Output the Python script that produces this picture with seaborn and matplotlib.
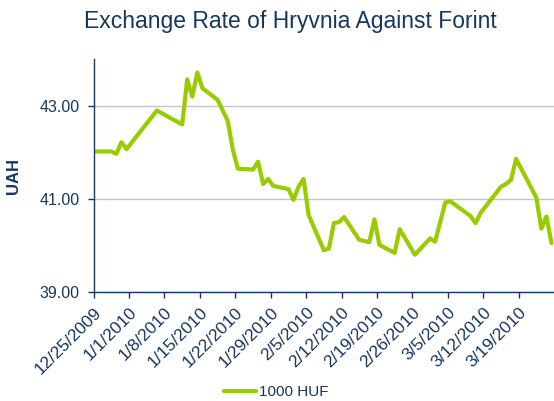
import pandas as pd
import numpy as np
import matplotlib
matplotlib.use("Agg")
import matplotlib.pyplot as plt
import seaborn as sns

# ==========================================
# DATA
# ==========================================

dates = [
    "2009-12-25", "2009-12-28", "2009-12-29", "2009-12-30", "2009-12-31",
    "2010-01-06", "2010-01-11", "2010-01-12", "2010-01-13", "2010-01-14",
    "2010-01-15", "2010-01-18", "2010-01-20", "2010-01-21", "2010-01-22",
    "2010-01-25", "2010-01-26", "2010-01-27", "2010-01-28", "2010-01-29",
    "2010-02-01", "2010-02-02", "2010-02-03", "2010-02-04", "2010-02-05",
    "2010-02-08", "2010-02-09", "2010-02-10", "2010-02-11", "2010-02-12",
    "2010-02-15", "2010-02-17", "2010-02-18", "2010-02-19", "2010-02-22",
    "2010-02-23", "2010-02-26", "2010-03-01", "2010-03-02", "2010-03-04",
    "2010-03-05", "2010-03-09", "2010-03-10", "2010-03-11", "2010-03-15",
    "2010-03-16", "2010-03-17", "2010-03-18", "2010-03-22", "2010-03-23",
    "2010-03-24", "2010-03-25",
]

uah_per_1000_huf = [
    42.02, 42.02, 41.97, 42.22, 42.07,
    42.90, 42.60, 43.57, 43.20, 43.72,
    43.38, 43.13, 42.68, 42.07, 41.65,
    41.63, 41.80, 41.32, 41.43, 41.28,
    41.21, 40.98, 41.26, 41.43, 40.65,
    39.90, 39.93, 40.48, 40.50, 40.61,
    40.12, 40.07, 40.56, 40.01, 39.84,
    40.35, 39.80, 40.15, 40.08, 40.92,
    40.95, 40.63, 40.48, 40.70, 41.26,
    41.32, 41.41, 41.86, 41.03, 40.36,
    40.62, 40.05,
]

tick_dates = pd.date_range("2009-12-25", "2010-03-19", freq="7D")
y_ticks = [39, 41, 43]

navy = "#17375E"
green = "#99CC00"

# points sit in the middle of each day slot
df = pd.DataFrame(
    {
        "Date": pd.to_datetime(dates) + pd.Timedelta(hours=12),
        "Rate": uah_per_1000_huf,
    }
)

# ==========================================
# PLOT
# ==========================================

sns.set_theme(style="white")
plt.rcParams["font.family"] = ["Liberation Sans", "DejaVu Sans"]

fig = plt.figure(figsize=(5.54, 4.01), dpi=100)
ax = fig.add_axes([0.169, 0.272, 0.831, 0.580])

sns.lineplot(
    data=df,
    x="Date",
    y="Rate",
    color=green,
    linewidth=3,
    label="1000 HUF",
    ax=ax
)

ax.set_xlim(pd.Timestamp("2009-12-25"), pd.Timestamp("2010-03-26"))
ax.set_ylim(39, 44)

ax.set_yticks(y_ticks)
ax.set_yticklabels([f"{v:.2f}" for v in y_ticks], color=navy, fontsize=11.5)
ax.set_xticks(tick_dates)
ax.set_xticklabels(
    [f"{d.month}/{d.day}/{d.year}" for d in tick_dates],
    rotation=45,
    ha="right",
    va="top",
    rotation_mode="anchor",
    color=navy,
    fontsize=12.5
)

ax.yaxis.grid(True, color="#C4C4C4", linewidth=1)
ax.set_axisbelow(True)

for side in ["top", "right"]:
    ax.spines[side].set_visible(False)
for side in ["left", "bottom"]:
    ax.spines[side].set_color(navy)
    ax.spines[side].set_linewidth(1)

ax.tick_params(axis="both", direction="out", length=4, width=1, color=navy)
ax.tick_params(axis="x", bottom=True, pad=5)
ax.tick_params(axis="y", left=True, pad=6)

ax.set_xlabel("")
ax.set_ylabel("UAH", color=navy, fontsize=12, fontweight="bold")
ax.yaxis.set_label_coords(-0.158, 0.5)

fig.suptitle(
    "Exchange Rate of Hryvnia Against Forint",
    x=0.525,
    y=0.975,
    fontsize=16.5,
    color=navy
)

ax.legend(
    loc="center",
    bbox_to_anchor=(0.397, -0.43),
    frameon=False,
    fontsize=11,
    labelcolor=navy,
    handlelength=2.1,
    handletextpad=0.2
)

plt.savefig("out.png", dpi=100)
